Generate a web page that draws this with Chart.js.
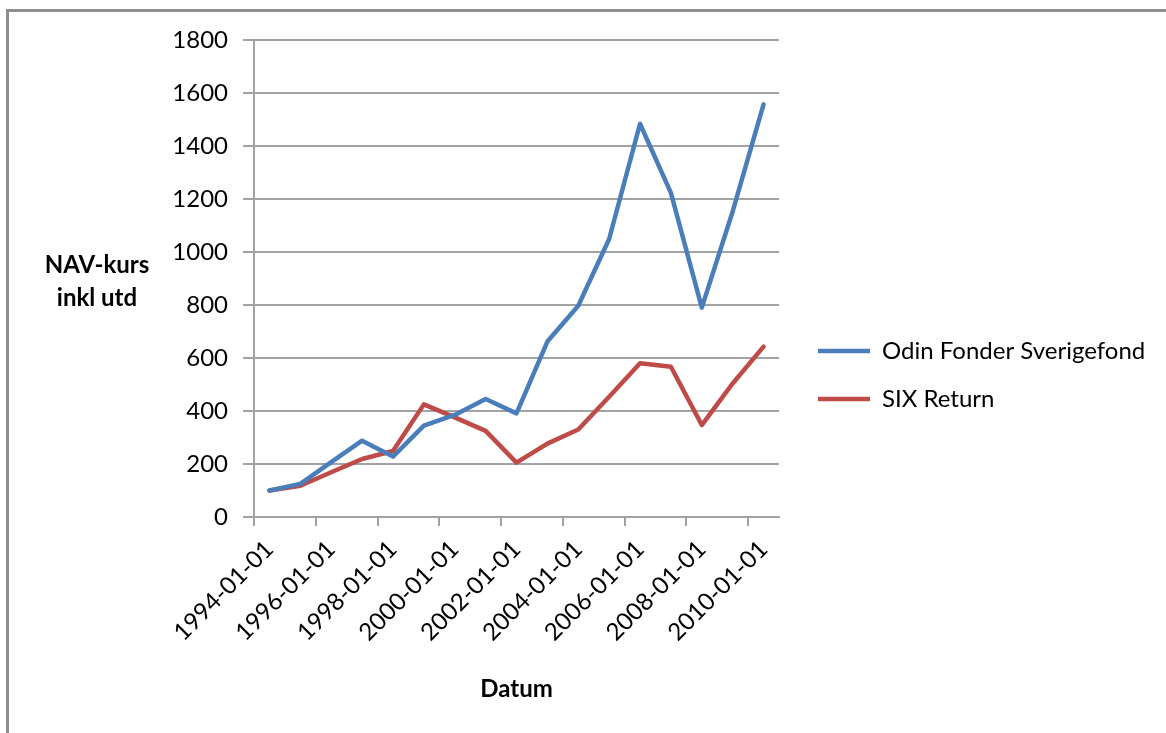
<!DOCTYPE html>
<html>
<head>
<meta charset="utf-8">
<script src="https://cdn.jsdelivr.net/npm/chart.js@4.4.1/dist/chart.umd.min.js"></script>
<style>
html, body { margin: 0; padding: 0; background: #ffffff; overflow: hidden; }
#wrap { position: relative; width: 1166px; height: 733px; }
#c { position: absolute; left: 0; top: 0; }
#frame { position: absolute; left: 6px; top: 9px; width: 1300px; height: 900px;
  border-left: 3px solid #8e8e8e; border-top: 3px solid #8e8e8e; pointer-events: none; }
</style>
</head>
<body>
<div id="wrap">
  <canvas id="c" width="1166" height="733"></canvas>
  <div id="frame"></div>
</div>
<script>
// ---- data ----
const categories = [
  '1994-01-01', '1995-01-01', '1996-01-01', '1997-01-01', '1998-01-01',
  '1999-01-01', '2000-01-01', '2001-01-01', '2002-01-01', '2003-01-01',
  '2004-01-01', '2005-01-01', '2006-01-01', '2007-01-01', '2008-01-01',
  '2009-01-01', '2010-01-01'
];
const odinValues = [100, 125, 207, 288, 228, 345, 385, 445, 391, 662, 797, 1049, 1484, 1223, 790, 1153, 1557];
const sixValues  = [100, 118, 169, 219, 249, 425, 376, 325, 205, 277, 330, 454, 580, 567, 347, 504, 643];
const seriesNames = ['Odin Fonder Sverigefond', 'SIX Return'];
const yTickValues = [0, 200, 400, 600, 800, 1000, 1200, 1400, 1600, 1800];
const yTitleLines = ['NAV-kurs', 'inkl utd'];
const xTitle = 'Datum';

// ---- style ----
const FONT = 'Lato, "Open Sans", sans-serif';
const GRID = '#a3a3a3';
const BLUE = '#4a7ebb';
const RED = '#be4b48';
const LINE_W = 4.5;
const PAD_TOP = 40;
const PAD_BOTTOM = 23;
const PLOT_BOTTOM = 517;

const yTitlePlugin = {
  id: 'yTitle',
  beforeInit(chart) {
    const legend = chart.legend;
    if (legend) {
      const origFit = legend.fit;
      legend.fit = function () {
        origFit.call(this);
        this.width = 372;
      };
    }
  },
  afterDraw(chart) {
    const ctx = chart.ctx;
    ctx.save();
    ctx.font = 'bold 24px ' + FONT;
    ctx.fillStyle = '#000';
    ctx.textAlign = 'center';
    ctx.textBaseline = 'middle';
    yTitleLines.forEach((t, i) => ctx.fillText(t, 97, 265 + i * 33));
    ctx.restore();
  }
};

new Chart(document.getElementById('c'), {
  type: 'line',
  data: {
    labels: categories,
    datasets: [
      { label: seriesNames[0], data: odinValues, borderColor: BLUE, backgroundColor: BLUE,
        borderWidth: LINE_W, borderCapStyle: 'round', borderJoinStyle: 'round' },
      { label: seriesNames[1], data: sixValues, borderColor: RED, backgroundColor: RED,
        borderWidth: LINE_W, borderCapStyle: 'round', borderJoinStyle: 'round' }
    ]
  },
  options: {
    responsive: false,
    animation: false,
    layout: { padding: { top: PAD_TOP, right: 0, bottom: PAD_BOTTOM, left: 0 } },
    elements: {
      point: { radius: 0, hoverRadius: 0 },
      line: { tension: 0, fill: false }
    },
    plugins: {
      tooltip: { enabled: false },
      legend: {
        position: 'right',
        labels: {
          usePointStyle: true,
          pointStyle: 'line',
          pointStyleWidth: 52,
          padding: 24,
          color: '#000',
          font: { family: FONT, size: 24 }
        }
      }
    },
    scales: {
      x: {
        type: 'category',
        offset: true,
        grid: {
          offset: true,
          drawOnChartArea: false,
          drawTicks: true,
          tickLength: 9,
          lineWidth: 2,
          color: (c) => (c.index !== undefined && c.index % 2 === 0) ? GRID : 'rgba(0,0,0,0)'
        },
        border: { display: true, color: GRID, width: 2 },
        ticks: {
          autoSkip: false,
          maxRotation: 45,
          minRotation: 45,
          padding: 9,
          color: '#000',
          font: { family: FONT, size: 24 },
          callback: function (v, i) { return i % 2 === 0 ? this.getLabelForValue(v) : ''; }
        },
        title: {
          display: true,
          text: xTitle,
          color: '#000',
          font: { family: FONT, size: 24, weight: 'bold' },
          padding: { top: 0, bottom: 6 }
        },
        afterFit(s) { s.height = s.chart.height - PAD_BOTTOM - PLOT_BOTTOM; }
      },
      y: {
        min: 0,
        max: 1800,
        afterBuildTicks(s) { s.ticks = yTickValues.map(v => ({ value: v })); },
        ticks: { padding: 15, color: '#000', font: { family: FONT, size: 24 },
          callback: (v) => String(v) },
        grid: { color: GRID, lineWidth: 2, tickLength: 11 },
        border: { display: true, color: GRID, width: 2 },
        afterFit(s) { s.width = 254; }
      },
      y2: {
        position: 'right',
        display: true,
        grid: { display: false },
        ticks: { display: false },
        border: { display: false },
        afterFit(s) { s.width = 15; }
      }
    }
  },
  plugins: [yTitlePlugin]
});
</script>
</body>
</html>
